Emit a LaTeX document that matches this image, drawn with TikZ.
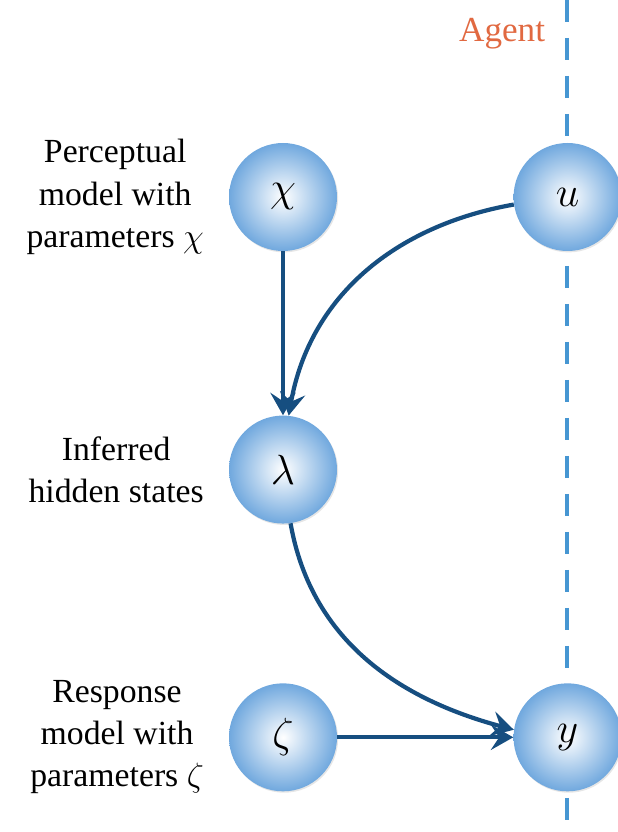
\documentclass[tikz,border=0pt]{standalone}
\usepackage{fix-cm}
\usepackage{fontspec}
\setmainfont{Liberation Serif}
\usepackage{tikz}
\usetikzlibrary{positioning, arrows.meta, shadows}
\definecolor{nodeblue}{RGB}{112,168,222}
\definecolor{edgeblue}{RGB}{22,78,128}
\definecolor{agentline}{RGB}{70,150,210}
\definecolor{agentred}{RGB}{225,105,65}

\begin{document}
\begin{tikzpicture}[
    vertex/.style={circle, minimum size=2.7cm, inner sep=0pt, shading=radial,
        inner color=white, outer color=nodeblue,
        drop shadow={opacity=0.2, shadow xshift=0.8pt, shadow yshift=-1pt},
        font=\fontsize{30}{36}\selectfont},
    lbl/.style={align=center, font=\fontsize{24}{30}\selectfont},
    link/.style={->, edgeblue, line width=3pt},
    >={Stealth[length=16pt, width=18pt, inset=6pt]}, node distance=4.1cm and 4.4cm
]
    \useasboundingbox (0,0) rectangle (15.45,20.8);
    % agent boundary
    \draw[agentline, line width=3.5pt, dash pattern=on 0.55cm off 0.4cm] (14.175,20.8) -- (14.175,0);
    \node[text=agentred, font=\fontsize{25}{30}\selectfont, anchor=east] (agent) at (13.75,19.95) {Agent};

    \node[vertex] (chi) at (7.075,15.875) {$\chi$};
    \node[vertex, right=of chi] (u) {$u$};
    \node[vertex, below=of chi] (lambda) {$\lambda$};
    \node[vertex, below=3.98cm of lambda] (zeta) {$\zeta$};
    \node[vertex, right=of zeta] (y) {$y$};

    \node[lbl, left=0.5cm of chi] (perc) {Perceptual\\model with\\parameters $\chi$};
    \node[lbl, left=0.5cm of lambda] (infer) {Inferred\\hidden states};
    \node[lbl, left=0.5cm of zeta] (resp) {Response\\model with\\parameters $\zeta$};

    \draw[link] (chi) -- (lambda);
    \draw[link] (u.188) to[out=190, in=80] (lambda.84);
    \draw[link] (lambda.-82) to[out=-80, in=165] (y.172);
    \draw[link] (zeta) -- (y);
\end{tikzpicture}
\end{document}
